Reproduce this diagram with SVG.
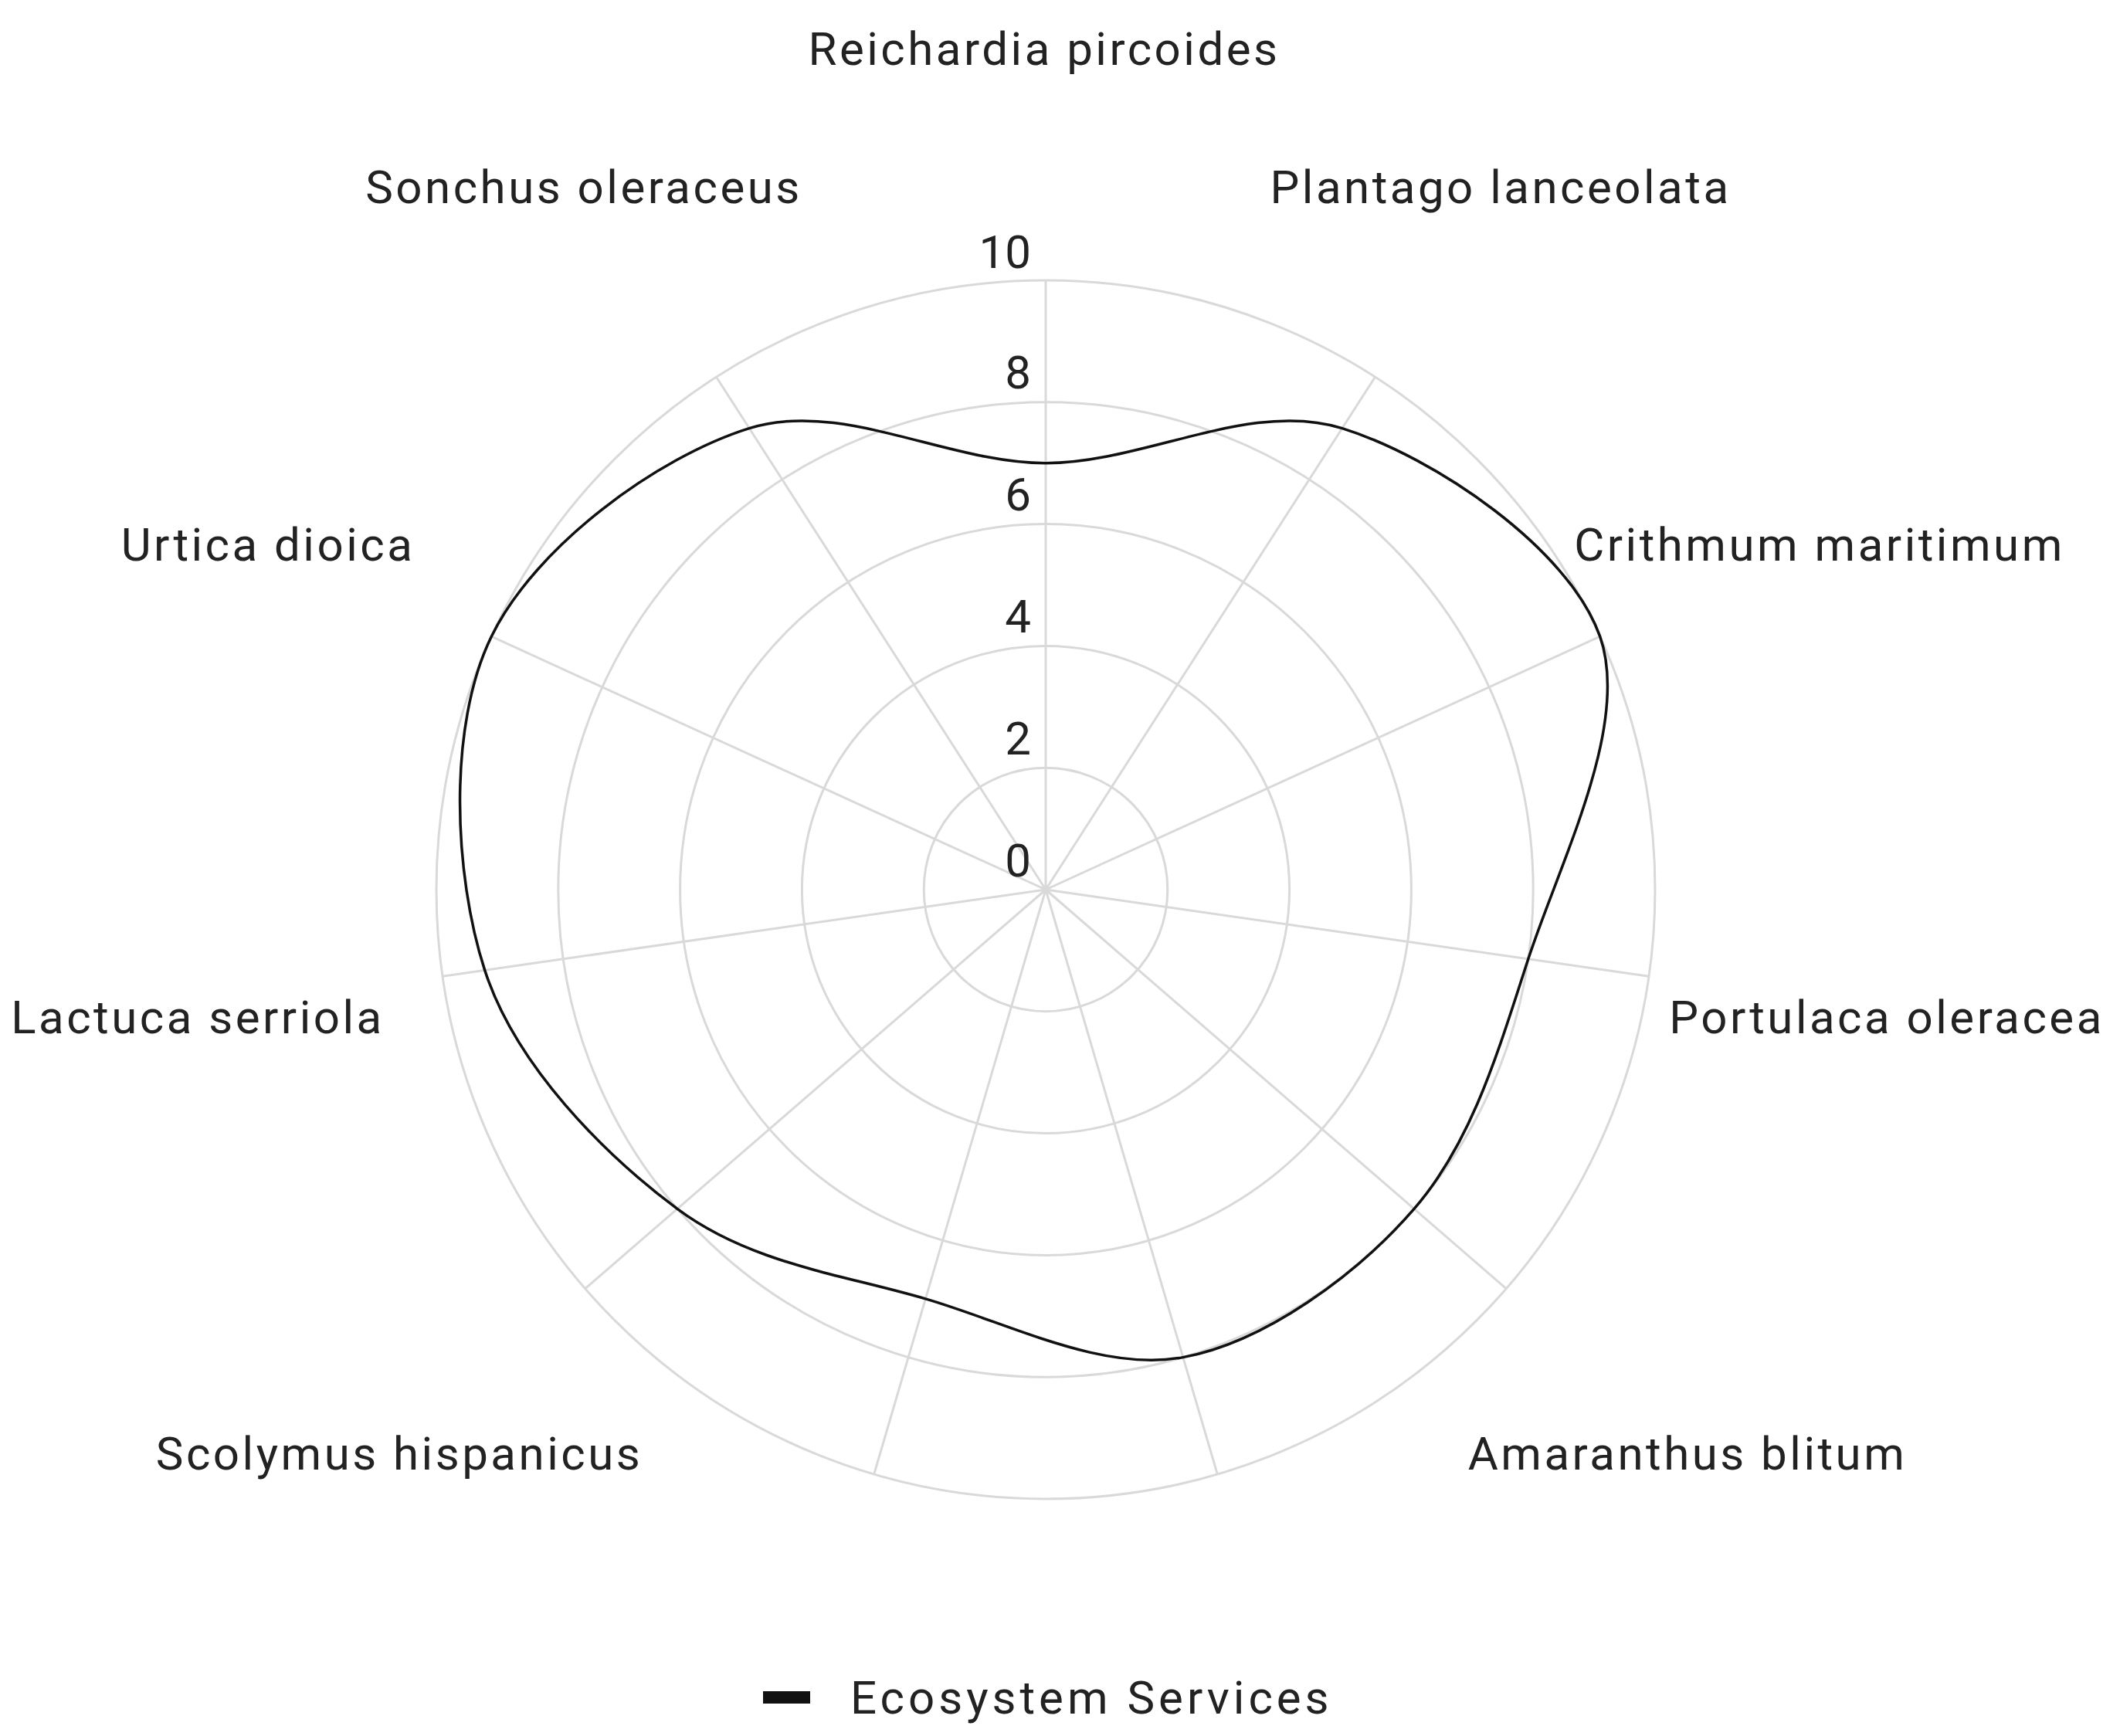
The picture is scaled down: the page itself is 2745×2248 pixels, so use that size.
<svg xmlns="http://www.w3.org/2000/svg" width="2745" height="2248" viewBox="0 0 2745 2248">
<style>
.g{fill:none;stroke:#d9d9d9;stroke-width:3}
.t{font-family:Roboto,"Liberation Sans",sans-serif;font-size:60px;letter-spacing:3.5px;fill:#222;text-anchor:middle}
.k{font-family:Roboto,"Liberation Sans",sans-serif;font-size:60px;fill:#222;text-anchor:end}
</style>
<rect width="2745" height="2248" fill="#fff"/>
<g id="grid">
<circle class="g" cx="1354" cy="1152" r="157.8"/>
<circle class="g" cx="1354" cy="1152" r="315.6"/>
<circle class="g" cx="1354" cy="1152" r="473.4"/>
<circle class="g" cx="1354" cy="1152" r="631.2"/>
<circle class="g" cx="1354" cy="1152" r="789"/>
<path class="g" d="M1354 1152L1354 363M1354 1152L1780.5 488.2M1354 1152L2071.7 824.2M1354 1152L2134.9 1264.3M1354 1152L1950.2 1668.7M1354 1152L1576.3 1909M1354 1152L1131.7 1909M1354 1152L757.8 1668.7M1354 1152L573.1 1264.3M1354 1152L636.3 824.2M1354 1152L927.5 488.2"/>
</g>
<g id="ticks">
<text class="k" x="1335" y="347">10</text>
<text class="k" x="1335" y="503">8</text>
<text class="k" x="1335" y="661">6</text>
<text class="k" x="1335" y="819">4</text>
<text class="k" x="1335" y="977">2</text>
<text class="k" x="1335" y="1135">0</text>
</g>
<g id="series">
<path d="M1354,599.7 C1482,599.7 1618.3,517.2 1737.9,554.6 C1857.5,592 2031.5,709.7 2071.7,824.2 C2111.9,938.7 2018.9,1118.3 1978.8,1241.8 C1938.7,1365.3 1905.5,1479.4 1831,1565.4 C1756.5,1651.4 1637.2,1738.2 1531.8,1757.6 C1426.4,1777 1307.5,1713.9 1198.4,1681.9 C1089.3,1649.9 972.1,1636.3 877,1565.4 C781.9,1494.5 667.8,1379.9 627.7,1256.4 C587.6,1132.9 579.2,941.2 636.3,824.2 C693.4,707.2 850.5,592 970.1,554.6 C1089.7,517.2 1226,599.7 1354,599.7 Z" fill="none" stroke="#111" stroke-width="3.5" stroke-linejoin="round"/>
</g>
<g id="labels">
<text class="t" x="1352" y="84">Reichardia pircoides</text>
<text class="t" x="1943" y="263">Plantago lanceolata</text>
<text class="t" x="756" y="263">Sonchus oleraceus</text>
<text class="t" x="2356" y="726">Crithmum maritimum</text>
<text class="t" x="347" y="726">Urtica dioica</text>
<text class="t" x="2443" y="1338">Portulaca oleracea</text>
<text class="t" x="256" y="1338">Lactuca serriola</text>
<text class="t" x="2185" y="1903">Amaranthus blitum</text>
<text class="t" x="517" y="1903">Scolymus hispanicus</text>
</g>
<g id="legend">
<rect x="988" y="2190" width="61" height="16" fill="#111"/>
<text x="1101" y="2219" font-family="Roboto,'Liberation Sans',sans-serif" font-size="60" letter-spacing="5" fill="#222">Ecosystem Services</text>
</g>
</svg>
